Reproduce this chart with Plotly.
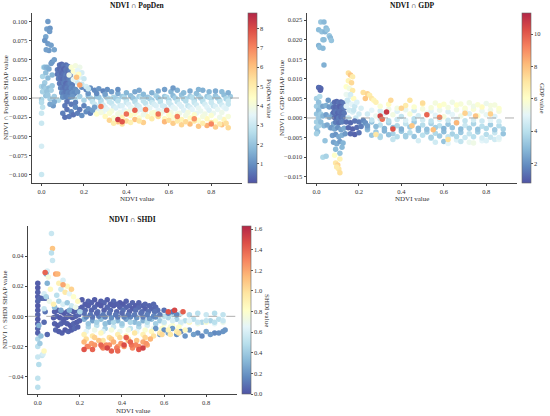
"""SHAP interaction dependence plots: NDVI against PopDen, GDP and SHDI."""

import plotly.graph_objects as go

W, H = 550, 416
FONT = "Liberation Serif, Times New Roman, serif"
INK = "#333333"

# ── NDVI ∩ PopDen ─────────────────────────────────────────────────────────
POP_X = [
    0.02, 0.06, 0.10, 0.14, 0.18, 0.22, 0.26, 0.30, 0.34, 0.38, 0.42, 0.46, 0.50, 0.54, 0.58, 0.62, 0.66, 0.70, 0.74, 0.78, 0.82, 0.86, 0.89,
    0.00, 0.04, 0.08, 0.12, 0.16, 0.20, 0.24, 0.28, 0.32, 0.36, 0.40, 0.44, 0.48, 0.52, 0.56, 0.60, 0.64, 0.68, 0.72, 0.76, 0.80, 0.84, 0.88,
    0.23, 0.27, 0.31, 0.35, 0.39, 0.43, 0.47, 0.51, 0.55, 0.59, 0.63, 0.67, 0.71, 0.75, 0.79, 0.83, 0.87,
    0.24, 0.28, 0.32, 0.36, 0.40, 0.44, 0.48, 0.52, 0.56, 0.60, 0.64, 0.68, 0.72, 0.76, 0.80, 0.84, 0.88,
    0.25, 0.29, 0.33, 0.37, 0.41, 0.45, 0.49, 0.53, 0.57, 0.61, 0.65, 0.69, 0.73, 0.77, 0.81, 0.85, 0.88,
    0.26, 0.30, 0.34, 0.38, 0.42, 0.46, 0.50, 0.54, 0.58, 0.62, 0.66, 0.70, 0.74, 0.78, 0.82, 0.86,
    0.27, 0.31, 0.35, 0.39, 0.43, 0.47, 0.51, 0.55, 0.59, 0.63, 0.67, 0.71, 0.75, 0.79, 0.83, 0.87,
    0.25, 0.29, 0.33, 0.37, 0.41, 0.45, 0.49, 0.53, 0.57, 0.61, 0.65, 0.69, 0.73, 0.77, 0.81, 0.85,
    0.26, 0.30, 0.34, 0.38, 0.42, 0.46, 0.50, 0.54, 0.58, 0.62, 0.66, 0.70, 0.74, 0.78, 0.82, 0.86,
    0.28, 0.32, 0.36, 0.40, 0.44, 0.48, 0.52, 0.56, 0.60, 0.64, 0.68, 0.72, 0.76, 0.80, 0.84, 0.88,
    0.32, 0.36, 0.40, 0.44, 0.48, 0.55, 0.58, 0.62, 0.66, 0.70, 0.74, 0.78, 0.82, 0.85, 0.88,
    0.34, 0.38, 0.42, 0.46, 0.52, 0.60, 0.64, 0.68, 0.72, 0.76, 0.80, 0.84, 0.87,
    0.36, 0.40, 0.44, 0.48, 0.52, 0.55, 0.58, 0.61, 0.64, 0.67, 0.70, 0.73, 0.76, 0.79, 0.82, 0.85, 0.88, 0.46, 0.62, 0.74,
    0.19, 0.21, 0.23, 0.25, 0.27, 0.29, 0.31, 0.33, 0.22, 0.26, 0.36, 0.30,
    0.00, 0.00, 0.00, 0.005, 0.00, 0.005, 0.01, 0.00, 0.01, 0.005, 0.015, 0.00,
    0.030, 0.025, 0.040, 0.038, 0.020, 0.030, 0.045, 0.015, 0.035, 0.022, 0.060, 0.050, 0.045, 0.060, 0.015, 0.025, 0.020, 0.035, 0.050, 0.030,
    0.010, 0.020, 0.035, 0.050, 0.045, 0.055, 0.040, 0.060, 0.025, 0.030,
    0.085, 0.095, 0.105, 0.115, 0.125,
    0.075, 0.085, 0.095, 0.105, 0.115, 0.125, 0.135,
    0.075, 0.085, 0.095, 0.105, 0.115, 0.125, 0.135,
    0.080, 0.090, 0.100, 0.110, 0.120, 0.130, 0.140,
    0.085, 0.095, 0.105, 0.115, 0.125, 0.135, 0.145,
    0.090, 0.100, 0.110, 0.120, 0.130, 0.140, 0.150, 0.160,
    0.095, 0.105, 0.115, 0.125, 0.135, 0.145, 0.155, 0.170,
    0.100, 0.115, 0.130, 0.145,
    0.14, 0.16, 0.18, 0.15, 0.17, 0.19, 0.16, 0.18, 0.20, 0.15, 0.17, 0.19, 0.21, 0.13, 0.175, 0.22, 0.165, 0.18,
    0.11, 0.12, 0.10, 0.13, 0.14, 0.15, 0.16, 0.17, 0.18, 0.19, 0.20, 0.21, 0.22, 0.23, 0.24, 0.12, 0.14, 0.25, 0.11, 0.16,
    0.36, 0.38, 0.40, 0.28, 0.44, 0.49, 0.55, 0.59, 0.64, 0.72, 0.80,
]
POP_Y = [
    0.003, 0.002, 0.003, 0.001, 0.002, 0.003, 0.002, 0.003, 0.001, 0.002, 0.003, 0.002, 0.001, 0.003, 0.002, 0.003, 0.004, 0.002, 0.003, 0.002, 0.003, 0.004, 0.002,
    -0.002, -0.001, -0.003, -0.002, -0.001, -0.003, -0.002, -0.003, -0.001, -0.002, -0.003, -0.002, -0.001, -0.003, -0.002, -0.003, -0.002, -0.001, -0.003, -0.002, -0.001, -0.003, -0.002,
    0.000, 0.001, 0.000, -0.001, 0.001, 0.000, 0.001, -0.001, 0.000, 0.001, 0.000, -0.001, 0.001, 0.000, 0.001, 0.000, -0.001,
    -0.005, -0.006, -0.005, -0.004, -0.006, -0.005, -0.004, -0.006, -0.005, -0.006, -0.005, -0.004, -0.006, -0.005, -0.006, -0.005, -0.004,
    -0.008, -0.009, -0.007, -0.010, -0.008, -0.009, -0.007, -0.008, -0.010, -0.009, -0.008, -0.010, -0.009, -0.008, -0.010, -0.009, -0.008,
    -0.011, -0.012, -0.011, -0.010, -0.012, -0.011, -0.012, -0.010, -0.011, -0.012, -0.011, -0.012, -0.013, -0.012, -0.011, -0.012,
    -0.014, -0.015, -0.013, -0.016, -0.014, -0.015, -0.013, -0.016, -0.015, -0.014, -0.016, -0.015, -0.017, -0.016, -0.015, -0.014,
    -0.017, -0.018, -0.017, -0.019, -0.018, -0.017, -0.018, -0.019, -0.018, -0.019, -0.020, -0.019, -0.020, -0.021, -0.020, -0.019,
    -0.021, -0.024, -0.026, -0.025, -0.023, -0.026, -0.024, -0.022, -0.027, -0.025, -0.028, -0.026, -0.029, -0.027, -0.030, -0.028,
    -0.019, -0.020, -0.021, -0.019, -0.020, -0.022, -0.020, -0.021, -0.022, -0.021, -0.023, -0.022, -0.024, -0.023, -0.025, -0.024,
    -0.029, -0.031, -0.030, -0.028, -0.032, -0.024, -0.031, -0.033, -0.035, -0.034, -0.037, -0.036, -0.038, -0.035, -0.039,
    -0.033, -0.034, -0.032, -0.030, -0.027, -0.029, -0.030, -0.031, -0.030, -0.033, -0.032, -0.034, -0.033,
    0.006, 0.007, 0.008, 0.005, 0.007, 0.009, 0.011, 0.008, 0.010, 0.007, 0.009, 0.006, 0.010, 0.008, 0.009, 0.008, 0.007, 0.010, 0.013, 0.011,
    0.014, 0.011, 0.013, 0.010, 0.012, 0.009, 0.011, 0.008, 0.006, 0.006, 0.011, 0.005,
    -0.100, -0.063, -0.033, -0.012, -0.006, 0.008, 0.012, 0.015, 0.040, 0.028, 0.020, -0.020,
    0.100, 0.090, 0.091, 0.087, 0.080, 0.071, 0.069, 0.075, 0.062, 0.063, 0.063, 0.047, 0.045, 0.050, 0.040, 0.040, 0.033, 0.038, 0.030, 0.026,
    0.015, 0.012, 0.013, 0.016, 0.010, -0.010, -0.008, -0.005, 0.008, 0.004,
    0.043, 0.044, 0.042, 0.043, 0.041,
    0.037, 0.038, 0.036, 0.038, 0.037, 0.036, 0.035,
    0.031, 0.030, 0.032, 0.031, 0.030, 0.031, 0.029,
    0.025, 0.026, 0.024, 0.025, 0.026, 0.024, 0.023,
    0.019, 0.018, 0.020, 0.019, 0.018, 0.019, 0.017,
    0.013, 0.012, 0.014, 0.013, 0.012, 0.013, 0.012, 0.011,
    0.007, 0.006, 0.008, 0.007, 0.006, 0.007, 0.006, 0.008,
    0.001, 0.002, 0.001, 0.002,
    0.040, 0.042, 0.040, 0.035, 0.036, 0.033, 0.029, 0.027, 0.025, 0.024, 0.020, 0.018, 0.015, 0.030, 0.031, 0.012, 0.027, 0.017,
    -0.010, -0.015, -0.020, -0.024, -0.018, -0.022, -0.012, -0.020, -0.015, -0.023, -0.010, -0.018, -0.014, -0.020, -0.016, -0.005, -0.008, -0.012, -0.025, -0.006,
    -0.028, -0.031, -0.021, -0.011, -0.016, -0.015, -0.021, -0.016, -0.024, -0.027, -0.034,
]
POP_C = [
    2.0, 2.2, 1.8, 2.1, 2.3, 1.9, 2.0, 2.2, 2.4, 2.1, 1.9, 2.2, 2.0, 2.3, 2.1, 1.8, 2.0, 2.2, 2.4, 2.1, 2.0, 1.9, 2.2,
    2.4, 2.2, 2.5, 2.3, 2.6, 2.4, 2.2, 2.5, 2.7, 2.3, 2.6, 2.4, 2.5, 2.2, 2.7, 2.4, 2.6, 2.3, 2.5, 2.8, 2.4, 2.6, 2.5,
    2.3, 2.1, 2.5, 2.2, 2.4, 2.0, 2.6, 2.3, 2.1, 2.5, 2.2, 2.4, 2.6, 2.3, 2.5, 2.2, 2.4,
    2.8, 2.6, 2.9, 2.7, 3.0, 2.6, 2.8, 2.9, 2.7, 3.0, 2.8, 2.6, 2.9, 2.7, 3.0, 2.8, 2.9,
    3.0, 3.2, 2.9, 3.1, 3.3, 3.0, 2.8, 3.2, 3.1, 3.0, 3.3, 2.9, 3.1, 3.2, 3.0, 3.1, 2.9,
    3.2, 3.4, 3.1, 3.3, 3.5, 3.2, 3.4, 3.3, 3.1, 3.5, 3.3, 3.2, 3.6, 3.4, 3.3, 3.5,
    3.4, 3.6, 3.3, 3.5, 3.7, 3.4, 3.6, 3.5, 3.3, 3.6, 3.4, 3.5, 3.7, 3.3, 3.6, 3.4,
    3.8, 3.6, 4.0, 3.7, 3.9, 3.6, 3.8, 4.1, 3.7, 3.9, 3.8, 4.0, 3.6, 3.9, 3.7, 3.8,
    4.4, 4.6, 4.2, 4.8, 4.5, 4.3, 4.7, 4.4, 4.6, 4.2, 4.8, 4.5, 4.3, 4.6, 4.4, 4.7,
    4.0, 4.2, 3.9, 4.1, 4.3, 3.8, 4.2, 4.0, 4.4, 4.1, 3.9, 4.3, 4.0, 4.2, 3.8, 4.1,
    5.6, 5.9, 5.4, 6.0, 5.7, 5.5, 6.2, 5.8, 5.6, 6.1, 5.9, 6.3, 5.7, 6.0, 5.5,
    5.0, 5.3, 4.9, 5.2, 5.0, 5.4, 5.1, 5.5, 5.2, 5.0, 5.3, 5.1, 5.4,
    1.5, 1.7, 1.4, 1.8, 1.6, 1.5, 1.3, 1.7, 1.6, 1.8, 1.5, 1.9, 1.6, 1.7, 1.5, 1.8, 1.6, 1.4, 1.2, 1.7,
    0.9, 0.8, 1.0, 0.9, 1.1, 0.8, 1.0, 1.2, 1.1, 0.9, 1.0, 1.3,
    3.0, 3.2, 3.0, 2.8, 2.6, 2.3, 2.4, 2.5, 2.6, 2.4, 2.2, 3.0,
    1.2, 1.3, 1.1, 1.2, 1.4, 1.2, 1.3, 1.1, 1.2, 1.3, 1.4, 1.0, 1.2, 1.3, 1.8, 1.6, 1.9, 1.5, 1.7, 1.8,
    2.0, 2.2, 1.9, 2.1, 2.3, 1.2, 1.4, 1.5, 2.0, 2.1,
    0.5, 0.4, 0.6, 0.5, 0.7,
    0.6, 0.4, 0.5, 0.3, 0.6, 0.5, 0.8,
    0.5, 0.6, 0.4, 0.5, 0.7, 0.4, 0.6,
    0.7, 0.5, 0.4, 0.6, 0.5, 0.7, 0.9,
    0.6, 0.5, 0.7, 0.4, 0.6, 0.8, 0.7,
    0.8, 0.6, 0.5, 0.7, 0.6, 0.9, 0.8, 1.0,
    0.9, 0.7, 0.6, 0.8, 0.7, 1.0, 0.9, 1.1,
    1.0, 0.8, 0.9, 1.1,
    4.2, 4.0, 3.8, 4.3, 3.5, 3.2, 3.9, 3.4, 3.0, 3.6, 3.1, 2.9, 3.2, 3.8, 4.5, 3.0, 6.0, 6.5,
    0.6, 0.5, 0.7, 0.6, 0.8, 0.5, 0.9, 0.7, 0.6, 1.0, 0.8, 0.9, 1.1, 0.7, 1.2, 0.5, 0.6, 1.3, 0.5, 0.7,
    8.3, 7.8, 7.4, 7.2, 7.6, 7.0, 7.3, 7.5, 7.1, 6.8, 7.0,
]

# ── NDVI ∩ GDP ────────────────────────────────────────────────────────────
GDP_X = [
    0.22, 0.26, 0.30, 0.34, 0.38, 0.42, 0.46, 0.50, 0.54, 0.58, 0.62, 0.66, 0.70, 0.74, 0.78, 0.82, 0.86,
    0.24, 0.28, 0.32, 0.36, 0.40, 0.44, 0.48, 0.52, 0.56, 0.60, 0.64, 0.68, 0.72, 0.76, 0.80, 0.84, 0.88,
    0.30, 0.36, 0.42, 0.48, 0.54, 0.60, 0.66, 0.72, 0.78, 0.84,
    0.56, 0.62, 0.68, 0.74, 0.80, 0.86,
    0.24, 0.28, 0.32, 0.36, 0.40, 0.44, 0.48, 0.52, 0.56, 0.60, 0.64, 0.68, 0.72, 0.76, 0.80, 0.84, 0.88,
    0.26, 0.30, 0.34, 0.38, 0.42, 0.46, 0.50, 0.54, 0.58, 0.62, 0.66, 0.70, 0.74, 0.78, 0.82, 0.86,
    0.26, 0.30, 0.34, 0.38, 0.42, 0.46, 0.50, 0.54, 0.58, 0.62, 0.66, 0.70, 0.74, 0.78, 0.82, 0.86,
    0.24, 0.28, 0.32, 0.36, 0.40, 0.44, 0.48, 0.52, 0.56, 0.60, 0.64, 0.68, 0.72, 0.76, 0.80, 0.84,
    0.26, 0.30, 0.34, 0.38, 0.42, 0.46, 0.50, 0.54, 0.58, 0.62, 0.66, 0.70, 0.74, 0.78, 0.82, 0.86,
    0.30, 0.34, 0.38, 0.42, 0.46, 0.50, 0.54, 0.58, 0.62, 0.66, 0.70, 0.74, 0.78, 0.82, 0.86,
    0.56, 0.60, 0.64, 0.68, 0.72, 0.76, 0.80, 0.84,
    0.000, 0.000, 0.000, 0.000, 0.000, 0.005, 0.010, 0.010, 0.010, 0.010, 0.015, 0.020, 0.020, 0.020, 0.000, 0.030, 0.045, 0.040,
    0.010, 0.020, 0.035, 0.025, 0.040, 0.045, 0.050, 0.060, 0.065, 0.030, 0.035, 0.070, 0.010, 0.015, 0.030, 0.035,
    0.010, 0.015, 0.020, 0.018,
    0.030, 0.045, 0.060, 0.075, 0.030, 0.045, 0.060, 0.075, 0.035, 0.050, 0.065, 0.080, 0.055,
    0.085, 0.095, 0.105, 0.115, 0.125,
    0.080, 0.090, 0.100, 0.110, 0.120, 0.130,
    0.080, 0.090, 0.100, 0.110, 0.120, 0.130,
    0.085, 0.095, 0.105, 0.115, 0.125,
    0.090, 0.105, 0.120,
    0.070, 0.085, 0.100, 0.115, 0.130, 0.075, 0.090, 0.105, 0.120, 0.135, 0.080, 0.095, 0.110, 0.125, 0.090, 0.110, 0.120,
    0.090, 0.100, 0.110, 0.105, 0.095, 0.110, 0.085,
    0.150, 0.160, 0.170, 0.150, 0.165, 0.140, 0.155, 0.170, 0.140, 0.160, 0.175, 0.150, 0.165, 0.180, 0.140, 0.155, 0.170,
    0.145, 0.160, 0.175, 0.190, 0.200, 0.150, 0.185, 0.210,
    0.140, 0.160, 0.180, 0.200, 0.220, 0.150, 0.170, 0.190, 0.210, 0.160, 0.180, 0.200, 0.230, 0.240,
    0.220, 0.240, 0.250, 0.260, 0.270, 0.230, 0.280,
    0.40, 0.45, 0.62, 0.70, 0.75, 0.55, 0.35, 0.50, 0.82, 0.28, 0.66, 0.44,
    0.30, 0.31, 0.36, 0.52, 0.58, 0.33,
]
GDP_Y = [
    -0.0015, -0.0010, -0.0018, -0.0012, -0.0020, -0.0015, -0.0010, -0.0018, -0.0014, -0.0020, -0.0016, -0.0012, -0.0019, -0.0015, -0.0021, -0.0017, -0.0020,
    -0.0030, -0.0036, -0.0033, -0.0040, -0.0034, -0.0038, -0.0032, -0.0036, -0.0039, -0.0035, -0.0041, -0.0037, -0.0040, -0.0036, -0.0042, -0.0038, -0.0040,
    -0.0050, -0.0055, -0.0048, -0.0058, -0.0052, -0.0060, -0.0056, -0.0062, -0.0058, -0.0055,
    -0.0062, -0.0065, -0.0060, -0.0064, -0.0058, -0.0055,
    -0.0025, -0.0022, -0.0027, -0.0024, -0.0028, -0.0023, -0.0026, -0.0029, -0.0024, -0.0027, -0.0025, -0.0028, -0.0026, -0.0029, -0.0027, -0.0030, -0.0028,
    -0.0044, -0.0046, -0.0043, -0.0048, -0.0045, -0.0047, -0.0044, -0.0049, -0.0046, -0.0048, -0.0047, -0.0050, -0.0048, -0.0051, -0.0049, -0.0050,
    -0.0005, -0.0003, -0.0007, -0.0004, -0.0006, -0.0002, -0.0005, -0.0008, -0.0004, -0.0006, -0.0003, -0.0007, -0.0005, -0.0008, -0.0006, -0.0009,
    0.0010, 0.0005, 0.0012, 0.0008, 0.0004, 0.0010, 0.0006, 0.0012, 0.0007, 0.0003, 0.0009, 0.0005, 0.0011, 0.0006, 0.0008, 0.0004,
    0.0020, 0.0018, 0.0022, 0.0017, 0.0021, 0.0019, 0.0023, 0.0018, 0.0020, 0.0016, 0.0021, 0.0019, 0.0022, 0.0018, 0.0020, 0.0017,
    0.0030, 0.0035, 0.0025, 0.0032, 0.0028, 0.0036, 0.0026, 0.0031, 0.0027, 0.0033, 0.0025, 0.0030, 0.0028, 0.0032, 0.0024,
    0.0038, 0.0035, 0.0040, 0.0036, 0.0039, 0.0034, 0.0037, 0.0033,
    0.0050, 0.0030, 0.0010, -0.0010, -0.0025, -0.0035, 0.0040, 0.0020, 0.0000, -0.0020, 0.0055, 0.0030, 0.0010, -0.0010, -0.0040, -0.0100, -0.0098, -0.0058,
    0.0225, 0.0245, 0.0245, 0.0220, 0.0220, 0.0230, 0.0225, 0.0210, 0.0205, 0.0200, 0.0200, 0.0198, 0.0185, 0.0180, 0.0178, 0.0135,
    0.0078, 0.0077, 0.0075, 0.0071,
    0.0030, 0.0032, 0.0028, 0.0035, 0.0005, 0.0008, 0.0002, 0.0010, -0.0020, -0.0018, -0.0025, -0.0015, 0.0045,
    0.0040, 0.0042, 0.0039, 0.0041, 0.0038,
    0.0027, 0.0028, 0.0026, 0.0029, 0.0027, 0.0025,
    0.0014, 0.0015, 0.0013, 0.0016, 0.0014, 0.0012,
    0.0001, 0.0002, 0.0000, 0.0003, 0.0001,
    -0.0011, -0.0012, -0.0010,
    -0.0025, -0.0028, -0.0024, -0.0030, -0.0026, -0.0045, -0.0042, -0.0048, -0.0044, -0.0040, -0.0062, -0.0066, -0.0060, -0.0064, -0.0080, -0.0090, -0.0075,
    -0.0115, -0.0120, -0.0105, -0.0130, -0.0125, -0.0140, -0.0095,
    0.0115, 0.0110, 0.0105, 0.0095, 0.0090, 0.0080, 0.0075, 0.0070, 0.0060, 0.0055, 0.0050, 0.0040, 0.0035, 0.0030, 0.0030, 0.0020, 0.0015,
    0.0045, 0.0060, 0.0020, 0.0040, 0.0010, 0.0000, 0.0000, 0.0025,
    -0.0010, -0.0012, -0.0008, -0.0010, -0.0006, -0.0025, -0.0028, -0.0024, -0.0022, -0.0040, -0.0042, -0.0038, -0.0012, -0.0020,
    0.0065, 0.0062, 0.0058, 0.0050, 0.0045, 0.0050, 0.0040,
    0.0025, -0.0020, -0.0055, 0.0012, 0.0005, -0.0030, 0.0045, 0.0038, 0.0010, -0.0042, -0.0012, 0.0045,
    0.0005, -0.0003, -0.0028, 0.0008, 0.0002, 0.0015,
]
GDP_C = [
    3.6, 3.2, 4.0, 3.5, 3.8, 4.2, 3.4, 3.9, 3.6, 4.1, 3.3, 3.8, 4.4, 3.7, 4.0, 3.5, 3.9,
    3.0, 3.4, 2.8, 3.6, 3.2, 3.9, 3.1, 3.5, 3.8, 3.0, 3.6, 3.3, 4.2, 3.5, 3.9, 4.3, 3.2,
    3.8, 4.2, 3.5, 4.6, 4.0, 3.2, 4.8, 5.2, 5.0, 4.5,
    4.5, 5.0, 4.2, 5.4, 4.8, 5.1,
    2.6, 3.0, 2.8, 3.2, 2.7, 3.4, 2.9, 3.1, 3.5, 2.8, 3.3, 3.0, 3.6, 3.2, 3.8, 3.4, 3.6,
    3.3, 3.7, 3.1, 3.9, 3.5, 3.2, 4.0, 3.6, 3.4, 4.2, 3.8, 4.4, 4.0, 4.6, 4.3, 4.8,
    4.2, 4.6, 3.9, 4.4, 4.8, 4.0, 4.5, 4.1, 4.7, 4.3, 4.9, 4.2, 4.6, 4.4, 5.0, 4.5,
    4.5, 5.2, 4.8, 5.5, 4.2, 5.8, 4.6, 5.3, 4.9, 5.6, 5.0, 5.4, 4.7, 5.9, 5.1, 4.8,
    5.0, 4.6, 5.4, 4.8, 5.2, 4.5, 5.6, 4.9, 5.3, 4.7, 5.5, 5.0, 5.8, 5.2, 5.4, 5.6,
    5.8, 6.2, 5.5, 6.8, 5.9, 6.4, 5.7, 6.1, 5.6, 6.0, 5.8, 5.4, 6.2, 5.6, 5.9,
    5.6, 5.9, 5.4, 5.7, 5.5, 5.8, 5.3, 5.6,
    3.6, 3.4, 3.2, 3.5, 3.3, 3.0, 3.1, 2.9, 3.3, 3.6, 3.8, 3.2, 3.4, 3.0, 3.5, 3.8, 3.6, 3.2,
    3.0, 3.2, 2.9, 3.1, 2.8, 3.0, 3.2, 3.3, 2.9, 3.1, 3.0, 3.2, 2.8, 3.0, 2.9, 2.7,
    1.2, 1.3, 1.2, 1.1,
    2.4, 2.7, 2.2, 2.5, 2.8, 2.3, 2.6, 2.4, 2.9, 2.5, 2.7, 2.6, 2.2,
    1.3, 1.2, 1.4, 1.3, 1.5,
    1.4, 1.2, 1.3, 1.1, 1.4, 1.6,
    1.3, 1.5, 1.2, 1.4, 1.3, 1.5,
    1.4, 1.2, 1.6, 1.3, 1.5,
    1.6, 1.4, 1.7,
    2.2, 2.5, 2.0, 2.4, 2.6, 2.3, 2.1, 2.5, 2.7, 2.2, 2.4, 2.6, 2.3, 2.8, 3.0, 3.2, 2.9,
    7.0, 7.5, 6.5, 7.0, 6.8, 7.2, 6.0,
    7.2, 7.8, 6.8, 6.5, 7.4, 6.0, 5.5, 6.9, 5.2, 4.8, 6.2, 4.6, 5.0, 4.4, 4.9, 4.5, 4.7,
    4.4, 4.6, 4.3, 4.8, 4.5, 4.2, 4.4, 4.7,
    1.3, 1.2, 1.4, 1.5, 1.8, 1.2, 1.1, 1.3, 1.6, 1.2, 1.1, 1.4, 2.0, 2.2,
    7.2, 7.5, 6.8, 7.0, 6.5, 7.8, 6.6,
    7.5, 7.8, 7.2, 7.6, 7.9, 8.0, 7.4, 7.3, 7.6, 7.0, 8.2, 7.1,
    10.5, 9.6, 10.2, 9.8, 9.2, 10.8,
]

# ── NDVI ∩ SHDI ───────────────────────────────────────────────────────────
SHDI_X = [
    0.22, 0.26, 0.30, 0.34, 0.38, 0.42, 0.46, 0.50, 0.54, 0.58, 0.62, 0.66, 0.70, 0.74, 0.78, 0.82, 0.86,
    0.24, 0.28, 0.32, 0.36, 0.40, 0.44, 0.48, 0.52, 0.56, 0.60, 0.64, 0.68, 0.72, 0.76, 0.80, 0.84, 0.88,
    0.24, 0.28, 0.32, 0.36, 0.40, 0.44, 0.48, 0.52, 0.56, 0.60, 0.64, 0.68, 0.72, 0.76, 0.80, 0.84, 0.88,
    0.23, 0.27, 0.31, 0.35, 0.39, 0.43, 0.47, 0.51, 0.55, 0.59, 0.63, 0.67,
    0.60, 0.64, 0.68, 0.72, 0.76, 0.80, 0.84, 0.88,
    0.23, 0.29, 0.35, 0.41, 0.47, 0.53,
    0.26, 0.32, 0.38, 0.44, 0.50, 0.56,
    0.56, 0.60, 0.64, 0.68, 0.72, 0.76, 0.80, 0.84, 0.88, 0.58, 0.62, 0.66, 0.70, 0.74, 0.78, 0.82, 0.86, 0.89,
    0.22, 0.26, 0.30, 0.34, 0.38, 0.42, 0.46, 0.50, 0.54, 0.58, 0.62, 0.66, 0.70,
    0.23, 0.27, 0.31, 0.35, 0.39, 0.43, 0.47, 0.51, 0.55, 0.59, 0.63, 0.67,
    0.22, 0.255, 0.29, 0.325, 0.36, 0.395, 0.43, 0.465, 0.50, 0.535, 0.24, 0.31, 0.38, 0.45, 0.52,
    0.235, 0.27, 0.305, 0.34, 0.375, 0.41, 0.445, 0.48, 0.515,
    0.21, 0.24, 0.27, 0.30, 0.33, 0.36, 0.39, 0.42, 0.45,
    0.225, 0.255, 0.285, 0.315, 0.345, 0.375, 0.405, 0.435, 0.465, 0.50, 0.53, 0.56,
    0.21, 0.24, 0.27, 0.30, 0.33, 0.36, 0.39, 0.42, 0.45, 0.48, 0.51, 0.54, 0.57,
    0.225, 0.255, 0.285, 0.315, 0.345, 0.375, 0.405, 0.435, 0.465, 0.495, 0.525, 0.555, 0.60, 0.64,
    0.22, 0.25, 0.28, 0.31, 0.34, 0.37, 0.40, 0.43, 0.46, 0.49, 0.52, 0.55, 0.58, 0.62, 0.66,
    0.48, 0.51, 0.55,
    0.000, 0.000, 0.000, 0.000, 0.000, 0.000, 0.000, 0.000, 0.000, 0.000, 0.000, 0.000, 0.010, 0.020, 0.030, 0.040, 0.035, 0.045, 0.030,
    0.000, 0.000, 0.000, 0.005, 0.000, 0.000, 0.010, 0.020, 0.025, 0.015, 0.030, 0.005,
    0.080, 0.095, 0.110, 0.125, 0.140, 0.155, 0.170, 0.185, 0.198,
    0.075, 0.090, 0.105, 0.120, 0.135, 0.150, 0.165, 0.180, 0.195,
    0.080, 0.095, 0.110, 0.125, 0.140, 0.155, 0.170, 0.185, 0.198,
    0.085, 0.100, 0.115, 0.130, 0.145, 0.160, 0.175, 0.190,
    0.100, 0.120, 0.140, 0.110, 0.130, 0.150, 0.170, 0.090, 0.100, 0.120, 0.140, 0.160, 0.180, 0.190, 0.080, 0.200, 0.120, 0.160, 0.150, 0.110,
    0.065, 0.070, 0.065, 0.070, 0.045, 0.040, 0.050, 0.085, 0.095, 0.045, 0.060, 0.030, 0.040, 0.055, 0.075, 0.030, 0.035,
    0.22, 0.26, 0.33, 0.35, 0.41, 0.44, 0.48, 0.50, 0.38, 0.42, 0.30,
    0.62, 0.65, 0.69,
]
SHDI_Y = [
    -0.002, -0.003, -0.002, -0.004, -0.003, -0.002, -0.004, -0.003, -0.002, -0.003, -0.001, -0.002, -0.003, -0.002, -0.004, -0.003, -0.002,
    -0.007, -0.006, -0.008, -0.007, -0.006, -0.008, -0.007, -0.006, -0.008, -0.005, -0.006, -0.005, -0.004, -0.005, -0.004, -0.005, -0.004,
    -0.005, -0.004, -0.005, -0.004, -0.005, -0.004, -0.005, -0.004, -0.005, -0.004, -0.003, -0.004, -0.003, -0.004, -0.003, -0.004, -0.003,
    -0.010, -0.009, -0.010, -0.009, -0.010, -0.009, -0.010, -0.009, -0.008, -0.008, -0.007, -0.007,
    0.000, 0.001, 0.002, 0.001, 0.002, 0.001, 0.002, 0.001,
    -0.0005, 0.000, -0.001, -0.0005, -0.001, -0.0015,
    -0.0005, -0.0005, -0.0005, -0.0005, -0.0005, -0.0005,
    -0.008, -0.009, -0.008, -0.010, -0.009, -0.011, -0.010, -0.011, -0.010, -0.012, -0.011, -0.012, -0.013, -0.012, -0.013, -0.012, -0.011, -0.009,
    -0.012, -0.013, -0.011, -0.014, -0.012, -0.013, -0.011, -0.012, -0.010, -0.011, -0.009, -0.010, -0.009,
    -0.015, -0.014, -0.016, -0.015, -0.014, -0.015, -0.016, -0.014, -0.013, -0.012, -0.012, -0.011,
    -0.017, -0.018, -0.016, -0.019, -0.017, -0.018, -0.016, -0.019, -0.017, -0.015, -0.020, -0.021, -0.020, -0.021, -0.019,
    -0.020, -0.019, -0.020, -0.019, -0.021, -0.020, -0.019, -0.020, -0.018,
    0.011, 0.010, 0.011, 0.010, 0.011, 0.010, 0.009, 0.010, 0.009,
    0.008, 0.009, 0.008, 0.009, 0.008, 0.008, 0.008, 0.007, 0.007, 0.007, 0.007, 0.006,
    0.006, 0.007, 0.006, 0.007, 0.006, 0.007, 0.006, 0.006, 0.005, 0.006, 0.005, 0.005, 0.004,
    0.004, 0.004, 0.003, 0.004, 0.004, 0.003, 0.004, 0.003, 0.004, 0.003, 0.003, 0.003, 0.004, 0.003,
    0.002, 0.001, 0.002, 0.001, 0.002, 0.001, 0.002, 0.001, 0.001, 0.002, 0.001, 0.000, 0.001, 0.002, 0.001,
    0.009, 0.008, 0.008,
    0.022, 0.019, 0.016, 0.013, 0.010, 0.007, 0.004, 0.001, -0.002, -0.005, -0.008, -0.011, 0.012, 0.012, 0.012, 0.012, 0.003, -0.012, -0.004,
    -0.015, -0.020, -0.027, -0.032, -0.041, -0.047, -0.018, -0.026, -0.025, -0.013, -0.023, -0.006,
    0.003, 0.004, 0.003, 0.002, 0.003, 0.004, 0.003, 0.004, 0.005,
    -0.001, 0.000, -0.001, -0.002, -0.001, 0.000, -0.001, 0.000, 0.001,
    -0.005, -0.006, -0.005, -0.004, -0.005, -0.006, -0.005, -0.004, -0.003,
    -0.009, -0.010, -0.011, -0.009, -0.010, -0.009, -0.008, -0.007,
    0.022, 0.024, 0.020, 0.018, 0.016, 0.015, 0.013, 0.014, 0.010, 0.008, 0.009, 0.007, 0.006, 0.010, 0.006, 0.003, 0.021, 0.018, 0.004, 0.004,
    0.055, 0.045, 0.042, 0.037, 0.030, 0.028, 0.026, 0.028, 0.028, 0.022, 0.018, 0.015, 0.013, 0.010, 0.008, 0.005, 0.029,
    -0.022, -0.022, -0.021, -0.023, -0.019, -0.017, -0.022, -0.021, -0.023, -0.014, -0.019,
    0.003, 0.004, 0.003,
]
SHDI_C = [
    0.30, 0.25, 0.35, 0.28, 0.32, 0.26, 0.34, 0.30, 0.36, 0.40, 0.45, 0.42, 0.48, 0.50, 0.46, 0.44, 0.50,
    0.45, 0.50, 0.42, 0.55, 0.48, 0.52, 0.46, 0.60, 0.55, 0.75, 0.80, 0.70, 0.85, 0.72, 0.78, 0.65, 0.70,
    0.38, 0.42, 0.36, 0.45, 0.40, 0.44, 0.38, 0.48, 0.42, 0.55, 0.60, 0.58, 0.65, 0.55, 0.52, 0.50, 0.55,
    0.65, 0.70, 0.62, 0.75, 0.68, 0.72, 0.66, 0.78, 0.70, 0.80, 0.75, 0.82,
    0.50, 0.48, 0.52, 0.46, 0.50, 0.55, 0.48, 0.52,
    0.15, 0.12, 0.18, 0.14, 0.20, 0.22,
    0.10, 0.14, 0.12, 0.16, 0.13, 0.18,
    0.20, 0.18, 0.22, 0.15, 0.20, 0.18, 0.24, 0.16, 0.20, 0.22, 0.25, 0.18, 0.20, 0.24, 0.16, 0.22, 0.18, 0.20,
    0.90, 0.95, 0.85, 1.00, 0.92, 0.88, 0.96, 0.90, 0.86, 0.94, 0.88, 0.92, 0.85,
    1.00, 1.05, 0.98, 1.08, 1.02, 1.00, 1.10, 1.04, 0.98, 1.02, 0.95, 0.98,
    1.15, 1.22, 1.10, 1.28, 1.18, 1.25, 1.12, 1.30, 1.20, 1.15, 1.25, 1.30, 1.22, 1.28, 1.18,
    1.30, 1.25, 1.35, 1.28, 1.32, 1.22, 1.35, 1.30, 1.25,
    0.03, 0.05, 0.02, 0.04, 0.03, 0.06, 0.02, 0.04, 0.05,
    0.03, 0.04, 0.02, 0.05, 0.03, 0.04, 0.02, 0.05, 0.03, 0.04, 0.05, 0.06,
    0.04, 0.03, 0.05, 0.02, 0.06, 0.03, 0.04, 0.05, 0.03, 0.06, 0.04, 0.05, 0.08,
    0.06, 0.05, 0.08, 0.04, 0.07, 0.06, 0.09, 0.05, 0.08, 0.07, 0.09, 0.10, 0.08, 0.11,
    0.08, 0.10, 0.06, 0.12, 0.09, 0.11, 0.07, 0.10, 0.12, 0.09, 0.13, 0.15, 0.12, 0.14, 0.16,
    0.04, 0.05, 0.06,
    0.03, 0.02, 0.04, 0.03, 0.05, 0.02, 0.03, 0.04, 0.02, 0.03, 0.05, 0.04, 0.06, 0.05, 0.08, 0.04, 0.10, 0.06, 0.07,
    0.45, 0.50, 0.55, 0.48, 0.52, 0.50, 0.40, 0.55, 0.60, 0.35, 0.85, 0.30,
    0.04, 0.03, 0.05, 0.02, 0.04, 0.06, 0.03, 0.05, 0.04,
    0.03, 0.05, 0.02, 0.04, 0.03, 0.05, 0.02, 0.04, 0.06,
    0.04, 0.02, 0.05, 0.03, 0.04, 0.02, 0.05, 0.03, 0.04,
    0.05, 0.03, 0.04, 0.02, 0.05, 0.03, 0.06, 0.04,
    0.90, 0.60, 0.85, 0.55, 0.95, 0.65, 0.80, 0.50, 0.45, 0.60, 0.40, 0.55, 0.70, 0.85, 0.35, 0.45, 1.20, 1.05, 0.30, 0.25,
    0.55, 1.10, 0.50, 0.55, 0.60, 0.30, 0.75, 1.20, 1.15, 0.30, 0.85, 0.60, 0.45, 0.70, 0.90, 0.55, 1.40,
    1.45, 1.40, 1.50, 1.42, 1.48, 1.40, 1.45, 1.52, 1.38, 1.42, 1.40,
    1.45, 1.50, 1.42,
]

# RdYlBu reversed, softened as if drawn at alpha 0.85 over white
CMAP = [
    [0.0, "rgb(80,84,165)"], [0.1, "rgb(97,138,191)"], [0.2, "rgb(137,185,216)"],
    [0.3, "rgb(184,223,236)"], [0.4, "rgb(229,245,249)"], [0.5, "rgb(255,255,200)"],
    [0.6, "rgb(254,229,161)"], [0.7, "rgb(253,186,121)"], [0.8, "rgb(246,131,95)"],
    [0.9, "rgb(221,79,71)"], [1.0, "rgb(179,38,71)"],
]


def px(x):
    return x / W


def py(y):
    return 1 - y / H


PANELS = [
    dict(x=POP_X, y=POP_Y, c=POP_C, name="PopDen", ax="", crange=(0.0, 8.8),
         cticks=[1, 2, 3, 4, 5, 6, 7, 8], cfmt="d",
         xdom=(32, 242), ydom=(13, 183), yrange=(-0.111, 0.111),
         yticks=[0.100, 0.075, 0.050, 0.025, 0.0, -0.025, -0.050, -0.075, -0.100], yfmt=".3f",
         cb_x=248, cb_title_x=269, ylab_x=6, title_y=6, xlab_y=199),
    dict(x=GDP_X, y=GDP_Y, c=GDP_C, name="GDP", ax="2", crange=(0.8, 11.3),
         cticks=[2, 4, 6, 8, 10], cfmt="d",
         xdom=(307, 517), ydom=(13, 183), yrange=(-0.0166, 0.0268),
         yticks=[0.025, 0.020, 0.015, 0.010, 0.005, 0.0, -0.005, -0.010, -0.015], yfmt=".3f",
         cb_x=521.5, cb_title_x=542, ylab_x=282, title_y=6, xlab_y=199),
    dict(x=SHDI_X, y=SHDI_Y, c=SHDI_C, name="SHDI", ax="3", crange=(0.0, 1.63),
         cticks=[0.0, 0.2, 0.4, 0.6, 0.8, 1.0, 1.2, 1.4, 1.6], cfmt=".1f",
         xdom=(28.3, 236.7), ydom=(226, 394), yrange=(-0.0515, 0.0599),
         yticks=[0.04, 0.02, 0.0, -0.02, -0.04], yfmt=".2f",
         cb_x=241.7, cb_title_x=267, ylab_x=5, title_y=219, xlab_y=410.5),
]

fig = go.Figure()
annotations = []
shapes = []
layout_axes = {}

for p in PANELS:
    x0, x1 = p["xdom"]
    y0, y1 = p["ydom"]
    cx = (x0 + x1) / 2
    cy = (y0 + y1) / 2
    fig.add_trace(go.Scatter(
        x=p["x"], y=p["y"], mode="markers",
        xaxis="x" + p["ax"], yaxis="y" + p["ax"],
        marker=dict(
            color=p["c"], colorscale=CMAP, cmin=p["crange"][0], cmax=p["crange"][1],
            size=5.5, line=dict(width=0),
            colorbar=dict(
                x=px(p["cb_x"]), xanchor="left", xpad=0,
                y=py(cy), yanchor="middle", ypad=0,
                len=y1 - y0, lenmode="pixels", thickness=9,
                tickvals=p["cticks"], tickformat=p["cfmt"],
                ticks="outside", ticklen=2, tickcolor="#555", tickwidth=0.6,
                tickfont=dict(family=FONT, size=6.5, color=INK),
                outlinewidth=0.6, outlinecolor="#666",
            ),
        ),
        showlegend=False, hoverinfo="skip",
    ))

    common = dict(showgrid=False, zeroline=False, showline=True, linecolor="#444",
                  linewidth=0.8, ticks="outside", ticklen=2.5, tickwidth=0.7,
                  tickcolor="#444", automargin=False,
                  tickfont=dict(family=FONT, size=6.5, color=INK))
    layout_axes["xaxis" + p["ax"]] = dict(
        common, domain=[px(x0), px(x1)], range=[-0.045, 0.945],
        tickvals=[0.0, 0.2, 0.4, 0.6, 0.8], tickformat=".1f",
        anchor="y" + p["ax"])
    layout_axes["yaxis" + p["ax"]] = dict(
        common, domain=[py(y1), py(y0)], range=list(p["yrange"]),
        tickvals=p["yticks"], tickformat=p["yfmt"],
        anchor="x" + p["ax"])

    # dashed zero line
    shapes.append(dict(type="line", xref="x%s domain" % p["ax"], yref="y" + p["ax"],
                       x0=0, x1=1, y0=0, y1=0,
                       line=dict(color="#999999", width=0.8, dash="dash")))

    text_font = dict(family=FONT, size=7, color=INK)
    label = dict(xref="paper", yref="paper", showarrow=False,
                 xanchor="center", yanchor="middle")
    annotations += [
        dict(label, text="<b>NDVI ∩ %s</b>" % p["name"], x=px(cx), y=py(p["title_y"]),
             font=dict(family=FONT, size=7.5, color="#111")),
        dict(label, text="NDVI value", x=px(cx), y=py(p["xlab_y"]), font=text_font),
        dict(label, text="NDVI ∩ %s SHAP value" % p["name"], x=px(p["ylab_x"]), y=py(cy),
             textangle=-90, font=text_font),
        dict(label, text="%s value" % p["name"], x=px(p["cb_title_x"]), y=py(cy),
             textangle=90, font=text_font),
    ]

fig.update_layout(
    width=W, height=H,
    margin=dict(l=0, r=0, t=0, b=0, autoexpand=False),
    paper_bgcolor="white", plot_bgcolor="white",
    font=dict(family=FONT, color=INK),
    annotations=annotations, shapes=shapes,
    **layout_axes,
)

# the page body keeps its default 8px margin otherwise
fig.write_html("out.html", config={"displayModeBar": False},
               post_script="document.body.style.margin = '0';")
